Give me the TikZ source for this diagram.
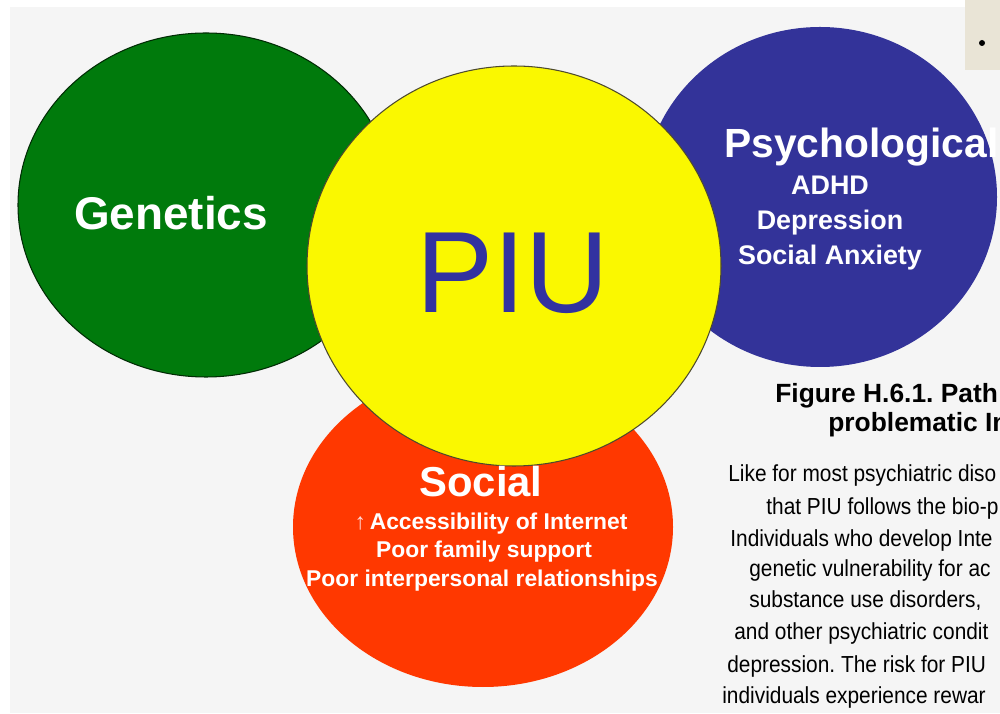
\documentclass[tikz,border=0pt]{standalone}
\usepackage{fontspec}
\setmainfont{Liberation Sans}
\newfontfamily\narrowfont{Liberation Sans}[FakeStretch=0.9]
\usepackage{tkz-euclide}
\definecolor{GenClr}{RGB}{0,122,12}
\definecolor{PsyClr}{RGB}{51,51,153}
\definecolor{SocClr}{RGB}{255,56,0}
\definecolor{PiuClr}{RGB}{250,248,0}
\definecolor{PiuTxtClr}{RGB}{50,50,160}
\definecolor{PanelClr}{RGB}{245,245,245}
\definecolor{NoteClr}{RGB}{233,228,214}
\frenchspacing

\tikzset{
  circtxt/.style={text=white,inner sep=0pt,anchor=base},
  pagetxt/.style={text=black,inner sep=0pt,anchor=base west}
}

\begin{document}
\begin{tikzpicture}[x=.02cm,y=.02cm]
\useasboundingbox (0,0) rectangle (1000,713);
\clip (0,0) rectangle (1000,713);
\fill[white] (0,0) rectangle (1000,713);
\fill[PanelClr] (10,0) rectangle (1000,706);
\fill[NoteClr] (965,643) rectangle (1000,713);
\fill[black] (982,670) circle (3);

\tkzDefPoints{206/508/Gen,820/516/Psy,483/186/Soc,514/447/Piu}

\filldraw[fill=GenClr,draw=black!65!GenClr,line width=.6pt] (Gen) ellipse [x radius=188,y radius=172];
\fill[PsyClr] (Psy) ellipse [x radius=177,y radius=170];
\fill[SocClr] (Soc) ellipse [x radius=190,y radius=160];
\filldraw[fill=PiuClr,draw=black!60!olive,line width=.6pt] (Piu) ellipse [x radius=207,y radius=200];

\node[circtxt,font=\bfseries\fontsize{26.1}{31}\selectfont] (gen) at (171,483) {Genetics};
\node[inner sep=0pt,anchor=base,text=PiuTxtClr,font=\fontsize{65.8}{79}\selectfont] (piu) at (513,400) {PIU};

\node[circtxt,anchor=base west,font=\bfseries\fontsize{23.2}{28}\selectfont] (psy) at (724,555) {Psychological};
\foreach \txt [count=\i] in {ADHD,Depression,Social Anxiety}
  \node[circtxt,font=\bfseries\fontsize{15.3}{18}\selectfont] (psy\i) at (830,553-35*\i) {\txt};

\node[circtxt,font=\bfseries\fontsize{23.8}{28}\selectfont] (soc) at (481,216) {Social};
\node[circtxt,font=\bfseries\fontsize{13}{16}\selectfont] (soc1) at (491,183) {{\mdseries\color{white!85!red}↑}\,Accessibility of Internet};
\node[circtxt,font=\bfseries\fontsize{13}{16}\selectfont] (soc2) at (484,155) {Poor family support};
\node[circtxt,font=\bfseries\fontsize{13}{16}\selectfont] (soc3) at (482,126) {Poor interpersonal relationships};

\node[pagetxt,font=\bfseries\fontsize{15}{18}\selectfont] (fig1) at (775,310) {Figure H.6.1. Path};
\node[pagetxt,font=\bfseries\fontsize{15}{18}\selectfont] (fig2) at (828,281) {problematic In};

\foreach \x/\y/\txt [count=\i] in {729/231/Like for most psychiatric diso,
    767/198/that PIU follows the bio-p,
    731/166/Individuals who develop Inte,
    750/136/genetic vulnerability for ac,
    {750/105/substance use disorders,},
    735/73/and other psychiatric condit,
    728/41/depression. The risk for PIU,
    723/10/individuals experience rewar}
  \node[pagetxt,font=\narrowfont\fontsize{13.2}{16}\selectfont] (txt\i) at (\x-1,\y) {\txt};

\end{tikzpicture}
\end{document}
